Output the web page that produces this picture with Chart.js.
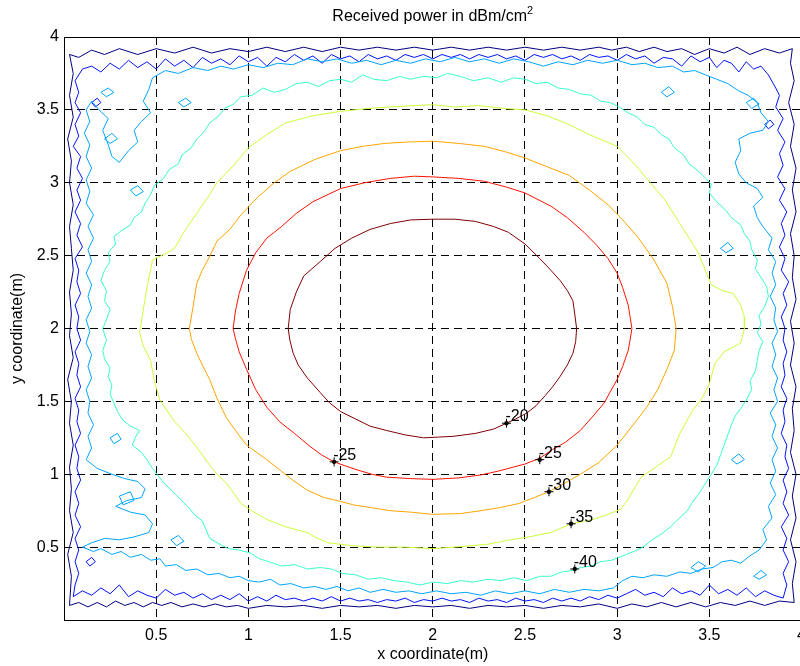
<!DOCTYPE html>
<html>
<head>
<meta charset="utf-8">
<title>Received power contour</title>
<script src="https://cdn.jsdelivr.net/npm/chart.js"></script>
<style>
  html, body { margin: 0; padding: 0; background: #fff; overflow: hidden; }
  #wrap { width: 812px; height: 666px; }
</style>
</head>
<body>
<div id="wrap"><canvas id="chart" width="812" height="666"></canvas></div>
<script>
// contour levels (dBm/cm^2) and their jet colours
const levels = [-20, -25, -30, -35, -40, -45, -50, -55];
const levelColors = ['#800000', '#ff1200', '#ffa400', '#c8ff37', '#37ffc8', '#00a4ff', '#0012ff', '#000080'];

// contour lines, [x, y] in metres
const c20 = [[1.216,2.00],[1.227,2.13],[1.26,2.25],[1.30,2.36],[1.39,2.46],[1.47,2.55],[1.56,2.62],[1.66,2.68],[1.77,2.72],[1.88,2.745],[2.00,2.75],[2.12,2.75],[2.23,2.735],[2.33,2.70],[2.41,2.66],[2.50,2.58],[2.58,2.48],[2.64,2.40],[2.69,2.33],[2.73,2.26],[2.76,2.19],[2.77,2.10],[2.78,2.00],[2.775,1.91],[2.76,1.83],[2.73,1.75],[2.69,1.67],[2.65,1.60],[2.61,1.54],[2.56,1.47],[2.51,1.42],[2.45,1.38],[2.40,1.35],[2.33,1.31],[2.23,1.28],[2.11,1.26],[2.03,1.255],[1.95,1.25],[1.85,1.27],[1.75,1.30],[1.66,1.33],[1.58,1.38],[1.50,1.43],[1.44,1.49],[1.39,1.56],[1.32,1.66],[1.27,1.75],[1.243,1.83],[1.225,1.92],[1.216,2.00]];
const c25 = [[0.917,2.00],[0.93,2.12],[0.95,2.24],[0.99,2.40],[1.04,2.52],[1.10,2.62],[1.18,2.70],[1.26,2.79],[1.35,2.87],[1.50,2.96],[1.63,3.00],[1.77,3.03],[1.90,3.045],[2.00,3.04],[2.14,3.03],[2.28,3.01],[2.40,2.97],[2.50,2.93],[2.64,2.84],[2.73,2.76],[2.82,2.66],[2.89,2.57],[2.95,2.48],[3.00,2.38],[3.03,2.28],[3.06,2.16],[3.07,2.08],[3.08,2.00],[3.07,1.92],[3.06,1.85],[3.03,1.74],[3.00,1.65],[2.96,1.56],[2.93,1.49],[2.87,1.40],[2.80,1.30],[2.72,1.22],[2.65,1.17],[2.58,1.11],[2.50,1.07],[2.44,1.05],[2.35,1.02],[2.26,0.995],[2.14,0.975],[2.00,0.965],[1.88,0.97],[1.75,0.98],[1.67,1.00],[1.59,1.03],[1.52,1.06],[1.465,1.085],[1.40,1.13],[1.335,1.19],[1.25,1.28],[1.17,1.36],[1.10,1.46],[1.04,1.58],[0.99,1.72],[0.95,1.84],[0.93,1.93],[0.917,2.00]];
const c30 = [[0.68,2.00],[0.70,2.15],[0.72,2.31],[0.75,2.40],[0.78,2.47],[0.83,2.60],[0.90,2.68],[0.96,2.78],[1.05,2.90],[1.14,3.00],[1.23,3.08],[1.36,3.16],[1.50,3.22],[1.62,3.25],[1.74,3.27],[1.87,3.28],[2.00,3.285],[2.14,3.27],[2.28,3.25],[2.40,3.21],[2.50,3.17],[2.62,3.11],[2.74,3.05],[2.85,2.95],[2.95,2.85],[3.02,2.76],[3.11,2.63],[3.20,2.47],[3.27,2.31],[3.30,2.15],[3.32,2.00],[3.31,1.85],[3.27,1.72],[3.22,1.58],[3.16,1.46],[3.10,1.36],[3.00,1.20],[2.90,1.08],[2.80,1.00],[2.69,0.92],[2.63,0.88],[2.55,0.84],[2.47,0.80],[2.36,0.77],[2.26,0.75],[2.15,0.73],[2.00,0.725],[1.88,0.74],[1.77,0.75],[1.67,0.77],[1.57,0.79],[1.48,0.82],[1.41,0.84],[1.32,0.89],[1.24,0.96],[1.17,1.03],[1.10,1.10],[0.99,1.20],[0.93,1.30],[0.88,1.39],[0.83,1.52],[0.79,1.65],[0.75,1.75],[0.72,1.83],[0.69,1.93],[0.68,2.00]];
const c35 = [[0.41,1.97],[0.43,2.13],[0.45,2.28],[0.48,2.47],[0.56,2.52],[0.60,2.55],[0.65,2.66],[0.72,2.79],[0.78,2.90],[0.83,3.00],[0.92,3.12],[1.00,3.24],[1.10,3.33],[1.20,3.41],[1.35,3.46],[1.50,3.49],[1.65,3.51],[1.77,3.52],[1.90,3.53],[2.00,3.535],[2.12,3.52],[2.25,3.53],[2.38,3.51],[2.50,3.50],[2.62,3.46],[2.72,3.41],[2.85,3.33],[3.00,3.25],[3.10,3.12],[3.18,3.00],[3.26,2.88],[3.34,2.72],[3.44,2.52],[3.51,2.30],[3.57,2.26],[3.63,2.24],[3.67,2.16],[3.69,2.08],[3.69,2.00],[3.67,1.90],[3.58,1.84],[3.53,1.76],[3.50,1.62],[3.46,1.52],[3.41,1.44],[3.34,1.28],[3.29,1.12],[3.20,1.04],[3.13,0.98],[3.06,0.83],[3.02,0.76],[2.94,0.72],[2.87,0.69],[2.75,0.66],[2.64,0.60],[2.52,0.57],[2.42,0.55],[2.30,0.52],[2.17,0.505],[2.00,0.49],[1.85,0.50],[1.70,0.50],[1.56,0.51],[1.43,0.53],[1.36,0.57],[1.32,0.60],[1.20,0.64],[1.10,0.69],[1.01,0.755],[0.96,0.80],[0.92,0.87],[0.88,0.94],[0.83,1.00],[0.78,1.08],[0.73,1.17],[0.66,1.28],[0.60,1.36],[0.52,1.51],[0.49,1.64],[0.47,1.78],[0.43,1.88],[0.41,1.97]];
const c40 = [[0.21,2.00],[0.23,2.06],[0.25,2.13],[0.22,2.19],[0.23,2.26],[0.20,2.33],[0.22,2.40],[0.25,2.46],[0.24,2.52],[0.28,2.58],[0.27,2.63],[0.31,2.67],[0.36,2.71],[0.38,2.76],[0.42,2.80],[0.44,2.86],[0.47,2.92],[0.49,2.98],[0.54,3.03],[0.57,3.09],[0.62,3.13],[0.64,3.19],[0.69,3.24],[0.72,3.30],[0.76,3.35],[0.79,3.41],[0.84,3.46],[0.87,3.51],[0.92,3.54],[0.96,3.59],[1.02,3.60],[1.08,3.65],[1.14,3.62],[1.20,3.64],[1.26,3.68],[1.32,3.69],[1.38,3.66],[1.44,3.70],[1.50,3.71],[1.56,3.69],[1.62,3.74],[1.68,3.71],[1.75,3.70],[1.82,3.73],[1.88,3.71],[1.95,3.73],[2.02,3.72],[2.08,3.75],[2.15,3.73],[2.22,3.70],[2.30,3.72],[2.37,3.69],[2.44,3.72],[2.50,3.71],[2.56,3.68],[2.62,3.69],[2.68,3.65],[2.74,3.64],[2.80,3.61],[2.86,3.60],[2.91,3.56],[2.96,3.55],[3.01,3.52],[3.06,3.48],[3.11,3.45],[3.15,3.40],[3.20,3.38],[3.24,3.33],[3.28,3.30],[3.31,3.24],[3.36,3.19],[3.39,3.13],[3.44,3.08],[3.48,3.03],[3.51,2.99],[3.50,2.93],[3.54,2.87],[3.59,2.81],[3.62,2.76],[3.67,2.71],[3.69,2.65],[3.72,2.60],[3.73,2.54],[3.76,2.47],[3.75,2.41],[3.78,2.35],[3.81,2.29],[3.82,2.22],[3.80,2.15],[3.77,2.09],[3.78,2.03],[3.76,1.97],[3.79,1.91],[3.77,1.85],[3.76,1.78],[3.75,1.71],[3.72,1.64],[3.73,1.58],[3.70,1.51],[3.67,1.45],[3.64,1.40],[3.62,1.34],[3.60,1.27],[3.58,1.20],[3.56,1.13],[3.54,1.06],[3.51,1.00],[3.48,0.94],[3.45,0.88],[3.41,0.81],[3.38,0.75],[3.33,0.69],[3.29,0.64],[3.24,0.59],[3.19,0.55],[3.14,0.50],[3.09,0.47],[3.03,0.44],[2.97,0.41],[2.91,0.40],[2.86,0.37],[2.80,0.36],[2.76,0.34],[2.70,0.33],[2.64,0.30],[2.58,0.30],[2.51,0.27],[2.44,0.29],[2.37,0.27],[2.30,0.28],[2.22,0.26],[2.15,0.27],[2.08,0.25],[2.00,0.26],[1.93,0.24],[1.86,0.26],[1.79,0.27],[1.72,0.29],[1.65,0.28],[1.58,0.31],[1.51,0.32],[1.45,0.35],[1.39,0.36],[1.32,0.35],[1.25,0.38],[1.18,0.37],[1.11,0.40],[1.06,0.42],[1.01,0.46],[0.95,0.48],[0.89,0.49],[0.83,0.53],[0.79,0.56],[0.77,0.62],[0.75,0.68],[0.71,0.72],[0.67,0.78],[0.63,0.83],[0.59,0.88],[0.55,0.93],[0.51,0.99],[0.48,1.04],[0.45,1.10],[0.42,1.15],[0.37,1.20],[0.39,1.26],[0.41,1.30],[0.36,1.33],[0.32,1.37],[0.29,1.43],[0.27,1.49],[0.25,1.55],[0.26,1.61],[0.24,1.67],[0.25,1.73],[0.22,1.79],[0.21,1.85],[0.23,1.92],[0.21,2.00]];
const c45 = [[0.10,0.50],[0.16,0.47],[0.20,0.49],[0.26,0.45],[0.31,0.47],[0.36,0.43],[0.42,0.45],[0.47,0.41],[0.52,0.42],[0.55,0.37],[0.61,0.38],[0.66,0.34],[0.72,0.35],[0.78,0.31],[0.84,0.32],[0.90,0.29],[0.95,0.30],[1.00,0.27],[1.06,0.26],[1.12,0.28],[1.17,0.24],[1.23,0.25],[1.30,0.22],[1.36,0.23],[1.42,0.21],[1.48,0.23],[1.54,0.20],[1.60,0.22],[1.66,0.19],[1.73,0.21],[1.80,0.19],[1.87,0.20],[1.94,0.18],[2.02,0.20],[2.10,0.18],[2.18,0.19],[2.26,0.17],[2.34,0.20],[2.42,0.18],[2.50,0.20],[2.58,0.18],[2.66,0.21],[2.74,0.19],[2.82,0.21],[2.90,0.20],[2.98,0.22],[3.03,0.27],[3.08,0.30],[3.14,0.29],[3.20,0.31],[3.27,0.30],[3.34,0.33],[3.40,0.32],[3.46,0.35],[3.52,0.36],[3.57,0.40],[3.62,0.41],[3.67,0.39],[3.72,0.44],[3.77,0.48],[3.81,0.55],[3.79,0.62],[3.84,0.70],[3.82,0.78],[3.86,0.86],[3.83,0.94],[3.86,1.02],[3.84,1.10],[3.87,1.18],[3.84,1.26],[3.86,1.34],[3.83,1.42],[3.87,1.50],[3.85,1.58],[3.87,1.66],[3.84,1.74],[3.86,1.82],[3.84,1.90],[3.87,1.98],[3.85,2.06],[3.86,2.14],[3.83,2.22],[3.86,2.30],[3.84,2.38],[3.86,2.46],[3.82,2.54],[3.84,2.62],[3.79,2.70],[3.76,2.76],[3.74,2.84],[3.79,2.90],[3.76,2.96],[3.70,3.00],[3.66,3.06],[3.64,3.14],[3.67,3.22],[3.66,3.30],[3.72,3.34],[3.79,3.36],[3.82,3.42],[3.78,3.48],[3.76,3.55],[3.71,3.60],[3.66,3.63],[3.60,3.68],[3.54,3.71],[3.48,3.74],[3.42,3.77],[3.36,3.76],[3.30,3.80],[3.22,3.79],[3.15,3.82],[3.08,3.81],[3.00,3.84],[2.92,3.82],[2.84,3.84],[2.76,3.81],[2.68,3.83],[2.60,3.80],[2.52,3.83],[2.44,3.85],[2.36,3.82],[2.28,3.85],[2.20,3.83],[2.12,3.86],[2.04,3.83],[1.96,3.85],[1.88,3.82],[1.80,3.84],[1.72,3.81],[1.64,3.84],[1.56,3.82],[1.48,3.85],[1.40,3.83],[1.32,3.85],[1.24,3.81],[1.16,3.82],[1.08,3.79],[1.00,3.81],[0.92,3.78],[0.85,3.80],[0.78,3.77],[0.70,3.79],[0.62,3.75],[0.55,3.77],[0.48,3.72],[0.46,3.64],[0.43,3.56],[0.47,3.48],[0.42,3.42],[0.38,3.36],[0.40,3.28],[0.35,3.22],[0.30,3.14],[0.26,3.18],[0.24,3.26],[0.21,3.36],[0.24,3.44],[0.19,3.50],[0.15,3.56],[0.12,3.50],[0.14,3.42],[0.11,3.34],[0.14,3.26],[0.12,3.18],[0.15,3.10],[0.12,3.02],[0.14,2.94],[0.12,2.86],[0.16,2.78],[0.13,2.70],[0.16,2.62],[0.13,2.54],[0.15,2.46],[0.12,2.38],[0.15,2.30],[0.13,2.22],[0.15,2.14],[0.12,2.06],[0.14,1.98],[0.12,1.90],[0.15,1.82],[0.13,1.74],[0.15,1.66],[0.12,1.58],[0.14,1.50],[0.13,1.42],[0.16,1.34],[0.13,1.26],[0.15,1.18],[0.12,1.10],[0.18,1.04],[0.26,1.00],[0.33,0.97],[0.40,0.95],[0.44,0.90],[0.42,0.84],[0.34,0.82],[0.28,0.78],[0.36,0.74],[0.44,0.72],[0.48,0.66],[0.46,0.60],[0.38,0.57],[0.30,0.55],[0.22,0.56],[0.15,0.53],[0.10,0.50]];
const c50 = [[3.86,3.65],[3.82,3.74],[3.78,3.80],[3.74,3.78],[3.70,3.83],[3.66,3.76],[3.62,3.82],[3.58,3.84],[3.54,3.79],[3.50,3.86],[3.45,3.83],[3.40,3.87],[3.35,3.80],[3.30,3.85],[3.25,3.86],[3.20,3.82],[3.15,3.87],[3.10,3.85],[3.05,3.88],[3.00,3.84],[2.95,3.87],[2.90,3.86],[2.85,3.88],[2.80,3.84],[2.75,3.87],[2.70,3.85],[2.65,3.88],[2.60,3.86],[2.55,3.88],[2.50,3.84],[2.45,3.87],[2.40,3.85],[2.35,3.88],[2.30,3.86],[2.25,3.88],[2.20,3.85],[2.15,3.88],[2.10,3.86],[2.05,3.88],[2.00,3.85],[1.95,3.88],[1.90,3.86],[1.85,3.88],[1.80,3.84],[1.75,3.87],[1.70,3.85],[1.65,3.88],[1.60,3.83],[1.55,3.87],[1.50,3.85],[1.45,3.88],[1.40,3.82],[1.35,3.87],[1.30,3.84],[1.25,3.88],[1.20,3.83],[1.15,3.86],[1.10,3.80],[1.05,3.86],[1.00,3.83],[0.95,3.87],[0.90,3.81],[0.85,3.85],[0.80,3.82],[0.75,3.86],[0.70,3.79],[0.65,3.84],[0.60,3.80],[0.55,3.85],[0.50,3.78],[0.45,3.83],[0.40,3.79],[0.35,3.84],[0.30,3.78],[0.25,3.82],[0.20,3.76],[0.15,3.80],[0.10,3.78],[0.06,3.70],[0.08,3.62],[0.06,3.55],[0.09,3.48],[0.06,3.40],[0.08,3.32],[0.05,3.25],[0.09,3.18],[0.07,3.10],[0.10,3.03],[0.07,2.95],[0.09,2.88],[0.06,2.80],[0.09,2.72],[0.07,2.64],[0.10,2.56],[0.06,2.48],[0.08,2.40],[0.07,2.32],[0.09,2.24],[0.06,2.16],[0.08,2.08],[0.07,2.00],[0.09,1.92],[0.06,1.84],[0.08,1.76],[0.07,1.68],[0.09,1.60],[0.06,1.52],[0.08,1.44],[0.07,1.36],[0.09,1.28],[0.06,1.20],[0.08,1.12],[0.07,1.04],[0.09,0.96],[0.06,0.88],[0.08,0.80],[0.06,0.72],[0.09,0.64],[0.06,0.56],[0.08,0.48],[0.06,0.40],[0.08,0.32],[0.06,0.24],[0.05,0.16],[0.10,0.20],[0.15,0.17],[0.20,0.22],[0.25,0.18],[0.30,0.24],[0.35,0.16],[0.40,0.20],[0.45,0.17],[0.50,0.15],[0.55,0.21],[0.60,0.17],[0.65,0.19],[0.70,0.15],[0.75,0.18],[0.80,0.14],[0.85,0.17],[0.90,0.14],[0.95,0.18],[1.00,0.13],[1.05,0.16],[1.10,0.13],[1.15,0.17],[1.20,0.14],[1.25,0.15],[1.30,0.13],[1.35,0.15],[1.40,0.13],[1.45,0.16],[1.50,0.13],[1.55,0.15],[1.60,0.13],[1.65,0.14],[1.70,0.12],[1.75,0.14],[1.80,0.13],[1.85,0.15],[1.90,0.12],[1.95,0.14],[2.00,0.13],[2.05,0.15],[2.10,0.13],[2.15,0.14],[2.20,0.12],[2.25,0.15],[2.30,0.13],[2.35,0.14],[2.40,0.12],[2.45,0.15],[2.50,0.13],[2.55,0.14],[2.60,0.12],[2.65,0.15],[2.70,0.13],[2.75,0.15],[2.80,0.13],[2.85,0.16],[2.90,0.14],[2.95,0.17],[3.00,0.15],[3.05,0.18],[3.10,0.21],[3.15,0.17],[3.20,0.19],[3.25,0.16],[3.30,0.22],[3.35,0.18],[3.40,0.20],[3.45,0.17],[3.50,0.24],[3.55,0.18],[3.60,0.21],[3.65,0.17],[3.70,0.22],[3.75,0.16],[3.80,0.20],[3.85,0.17],[3.90,0.15],[3.92,0.24],[3.90,0.32],[3.93,0.40],[3.90,0.48],[3.92,0.56],[3.89,0.64],[3.93,0.72],[3.90,0.80],[3.92,0.88],[3.90,0.96],[3.93,1.04],[3.91,1.12],[3.92,1.20],[3.89,1.28],[3.91,1.36],[3.90,1.44],[3.92,1.52],[3.89,1.60],[3.91,1.68],[3.90,1.76],[3.92,1.84],[3.90,1.92],[3.91,2.00],[3.89,2.08],[3.92,2.16],[3.90,2.24],[3.93,2.32],[3.89,2.40],[3.91,2.48],[3.88,2.56],[3.91,2.64],[3.89,2.72],[3.92,2.80],[3.88,2.88],[3.91,2.96],[3.87,3.04],[3.90,3.12],[3.88,3.20],[3.91,3.28],[3.87,3.36],[3.90,3.44],[3.86,3.52],[3.88,3.60],[3.86,3.65]];
const c55 = [[0.03,0.10],[0.08,0.12],[0.13,0.09],[0.18,0.12],[0.23,0.09],[0.28,0.13],[0.33,0.10],[0.38,0.12],[0.43,0.09],[0.48,0.12],[0.53,0.10],[0.58,0.12],[0.64,0.09],[0.70,0.11],[0.76,0.09],[0.82,0.11],[0.88,0.09],[0.94,0.10],[1.00,0.08],[1.10,0.10],[1.20,0.09],[1.30,0.10],[1.40,0.08],[1.50,0.10],[1.60,0.09],[1.70,0.10],[1.80,0.08],[1.90,0.10],[2.00,0.09],[2.10,0.10],[2.20,0.08],[2.30,0.10],[2.40,0.09],[2.50,0.10],[2.60,0.08],[2.70,0.10],[2.80,0.09],[2.90,0.11],[3.00,0.08],[3.08,0.11],[3.16,0.09],[3.24,0.12],[3.32,0.09],[3.40,0.12],[3.48,0.09],[3.56,0.12],[3.64,0.10],[3.72,0.13],[3.80,0.10],[3.88,0.13],[3.96,0.12],[3.95,0.25],[3.97,0.40],[3.94,0.55],[3.97,0.70],[3.95,0.85],[3.97,1.00],[3.94,1.15],[3.96,1.30],[3.95,1.45],[3.97,1.60],[3.94,1.75],[3.96,1.90],[3.94,2.05],[3.97,2.20],[3.95,2.35],[3.96,2.50],[3.94,2.65],[3.97,2.80],[3.95,2.95],[3.97,3.10],[3.94,3.25],[3.96,3.40],[3.93,3.55],[3.96,3.70],[3.94,3.82],[3.95,3.92],[3.88,3.89],[3.80,3.92],[3.72,3.88],[3.65,3.93],[3.58,3.89],[3.50,3.92],[3.42,3.88],[3.35,3.92],[3.27,3.90],[3.20,3.93],[3.12,3.90],[3.05,3.93],[2.97,3.91],[2.90,3.93],[2.80,3.91],[2.70,3.93],[2.60,3.91],[2.50,3.93],[2.40,3.91],[2.30,3.93],[2.20,3.91],[2.10,3.93],[2.00,3.91],[1.90,3.93],[1.80,3.91],[1.70,3.93],[1.60,3.91],[1.50,3.93],[1.40,3.90],[1.30,3.93],[1.20,3.90],[1.10,3.93],[1.00,3.90],[0.90,3.92],[0.80,3.89],[0.70,3.93],[0.60,3.89],[0.50,3.92],[0.40,3.88],[0.30,3.92],[0.22,3.88],[0.15,3.91],[0.08,3.86],[0.03,3.88],[0.05,3.75],[0.03,3.60],[0.05,3.45],[0.02,3.30],[0.04,3.15],[0.03,3.00],[0.05,2.85],[0.03,2.70],[0.04,2.55],[0.05,2.40],[0.03,2.25],[0.04,2.10],[0.03,1.95],[0.05,1.80],[0.02,1.65],[0.04,1.50],[0.03,1.35],[0.05,1.20],[0.03,1.05],[0.04,0.90],[0.03,0.75],[0.05,0.60],[0.02,0.45],[0.04,0.30],[0.03,0.10]];

// small closed islands of the -45 and -50 levels
const isl45 = [
  [[0.30,0.85],[0.36,0.88],[0.38,0.82],[0.32,0.79],[0.30,0.85]],
  [[3.40,0.36],[3.44,0.40],[3.48,0.37],[3.44,0.33],[3.40,0.36]],
  [[3.74,0.30],[3.78,0.34],[3.81,0.31],[3.77,0.28],[3.74,0.30]],
  [[0.22,3.30],[0.26,3.34],[0.29,3.30],[0.25,3.27],[0.22,3.30]],
  [[3.70,3.55],[3.74,3.58],[3.77,3.54],[3.73,3.51],[3.70,3.55]],
  [[0.20,3.62],[0.24,3.65],[0.27,3.62],[0.23,3.59],[0.20,3.62]],
  [[0.36,2.95],[0.40,2.98],[0.43,2.94],[0.39,2.91],[0.36,2.95]],
  [[3.56,2.55],[3.60,2.59],[3.63,2.55],[3.59,2.52],[3.56,2.55]],
  [[3.62,1.10],[3.66,1.14],[3.69,1.10],[3.65,1.07],[3.62,1.10]],
  [[0.25,1.25],[0.29,1.28],[0.31,1.24],[0.27,1.21],[0.25,1.25]],
  [[3.24,3.62],[3.28,3.66],[3.31,3.62],[3.27,3.59],[3.24,3.62]],
  [[0.62,3.55],[0.66,3.58],[0.69,3.55],[0.65,3.52],[0.62,3.55]],
  [[0.58,0.55],[0.62,0.58],[0.65,0.54],[0.61,0.51],[0.58,0.55]]
];
const isl50 = [
  [[0.15,3.55],[0.18,3.58],[0.20,3.55],[0.17,3.52],[0.15,3.55]],
  [[3.80,3.40],[3.83,3.43],[3.85,3.40],[3.82,3.37],[3.80,3.40]],
  [[0.12,0.40],[0.15,0.43],[0.17,0.40],[0.14,0.37],[0.12,0.40]]
];

// contour labels (clabel) and their marker positions
const labelX = [2.40, 1.465, 2.58, 2.63, 2.75, 2.77];
const labelY = [1.35, 1.085, 1.10, 0.88, 0.66, 0.35];
const labelText = ['-20', '-25', '-25', '-30', '-35', '-40'];

// axis ticks
const xTicks = [0.5, 1, 1.5, 2, 2.5, 3, 3.5, 4];
const yTicks = [0.5, 1, 1.5, 2, 2.5, 3, 3.5, 4];

const FONT = 'Liberation Sans, Arial, Helvetica, sans-serif';
const toXY = arr => arr.map(p => ({ x: p[0], y: p[1] }));

const lineSet = (pts, color) => ({
  data: toXY(pts),
  showLine: true,
  borderColor: color,
  borderWidth: 1,
  pointRadius: 0,
  fill: false,
  tension: 0,
  order: 5
});

const contourSets = [c20, c25, c30, c35, c40, c45, c50, c55].map((c, i) => lineSet(c, levelColors[i]));
const islandSets = [
  ...isl45.map(c => lineSet(c, levelColors[5])),
  ...isl50.map(c => lineSet(c, levelColors[6]))
];

const labelPoints = labelX.map((x, i) => ({ x: x, y: labelY[i] }));

// title, axis names, box and label text
const decorPlugin = {
  id: 'decor',
  afterDraw(chart) {
    const { ctx, chartArea: a, scales } = chart;
    ctx.save();
    ctx.fillStyle = '#000';
    ctx.strokeStyle = '#000';
    ctx.lineWidth = 1;
    ctx.strokeRect(a.left + 0.5, a.top + 0.5, a.right - a.left, a.bottom - a.top);

    // title with superscript
    const cx = (a.left + a.right) / 2;
    ctx.font = '16px ' + FONT;
    const main = 'Received power in dBm/cm';
    const wMain = ctx.measureText(main).width;
    ctx.font = '11px ' + FONT;
    const wSup = ctx.measureText('2').width;
    const x0 = cx - (wMain + wSup) / 2;
    ctx.textBaseline = 'alphabetic';
    ctx.textAlign = 'left';
    ctx.font = '16px ' + FONT;
    ctx.fillText(main, x0, 21);
    ctx.font = '11px ' + FONT;
    ctx.fillText('2', x0 + wMain, 14);

    // axis names
    ctx.font = '16px ' + FONT;
    ctx.textAlign = 'center';
    ctx.textBaseline = 'middle';
    ctx.fillText('x coordinate(m)', cx, 655);
    ctx.save();
    ctx.translate(18, (a.top + a.bottom) / 2);
    ctx.rotate(-Math.PI / 2);
    ctx.fillText('y coordinate(m)', 0, 0);
    ctx.restore();

    // contour label text
    ctx.font = '16px ' + FONT;
    ctx.textAlign = 'left';
    ctx.textBaseline = 'alphabetic';
    labelText.forEach((t, i) => {
      const px = scales.x.getPixelForValue(labelX[i]);
      const py = scales.y.getPixelForValue(labelY[i]);
      ctx.fillText(t, px - 1, py - 2);
    });
    ctx.restore();
  }
};

const tickCb = v => (v === 0 ? '' : String(Math.round(v * 10) / 10));

new Chart(document.getElementById('chart'), {
  type: 'scatter',
  data: {
    datasets: [
      { data: labelPoints, pointStyle: 'cross', pointRadius: 4.5, borderColor: '#000', borderWidth: 1, order: 0 },
      { data: labelPoints, pointStyle: 'circle', pointRadius: 2.2, backgroundColor: '#000', borderColor: '#000', borderWidth: 0, order: 1 },
      ...contourSets,
      ...islandSets
    ]
  },
  options: {
    responsive: false,
    animation: false,
    events: [],
    layout: { padding: { top: 37, right: 5, left: 0, bottom: 0 } },
    plugins: { legend: { display: false }, tooltip: { enabled: false }, title: { display: false } },
    scales: {
      x: {
        type: 'linear',
        min: 0,
        max: 4,
        afterBuildTicks: s => { s.ticks = xTicks.map(v => ({ value: v })); },
        afterFit: s => { s.height = 46; },
        grid: { color: '#000', lineWidth: 1, drawTicks: false },
        border: { display: false, dash: [8, 5] },
        ticks: { callback: tickCb, color: '#000', padding: 6, maxRotation: 0, autoSkip: false, font: { size: 16, family: FONT } }
      },
      y: {
        type: 'linear',
        min: 0,
        max: 4,
        afterBuildTicks: s => { s.ticks = yTicks.map(v => ({ value: v })); },
        afterFit: s => { s.width = 64; },
        grid: { color: '#000', lineWidth: 1, drawTicks: false },
        border: { display: false, dash: [8, 5] },
        ticks: { callback: tickCb, color: '#000', padding: 5, autoSkip: false, font: { size: 16, family: FONT } }
      }
    }
  },
  plugins: [decorPlugin]
});
</script>
</body>
</html>
